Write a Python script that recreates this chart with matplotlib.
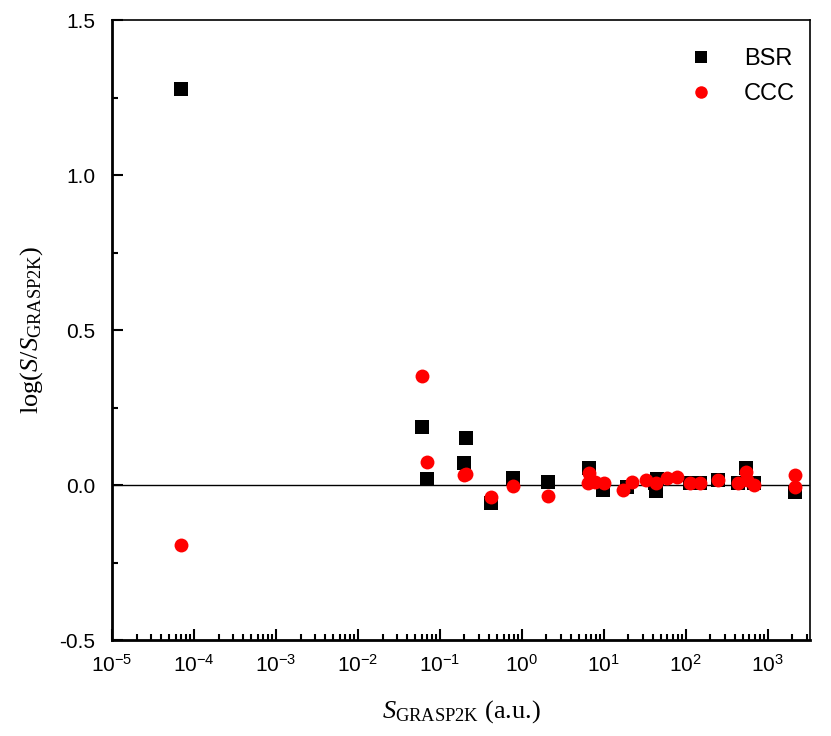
import matplotlib
matplotlib.use("Agg")
import matplotlib.pyplot as plt
import numpy as np
from matplotlib.ticker import FixedLocator, LogLocator, MultipleLocator, FuncFormatter, NullFormatter

plt.rcParams['font.family'] = ['Liberation Sans', 'DejaVu Sans']
plt.rcParams['mathtext.fontset'] = 'custom'
plt.rcParams['mathtext.rm'] = 'Liberation Serif'
plt.rcParams['mathtext.it'] = 'Liberation Serif:italic'
plt.rcParams['mathtext.sf'] = 'Liberation Sans'
plt.rcParams['axes.unicode_minus'] = False

# BSR line strengths vs GRASP2K
bsr_s = [6.9e-5, 0.06, 0.069, 0.21, 0.195, 0.42, 0.78, 2.1, 6.6, 9.8, 19, 43, 42, 45,
         112, 148, 250, 430, 550, 690, 2140]
bsr_log = [1.277, 0.187, 0.019, 0.152, 0.071, -0.058, 0.023, 0.01, 0.055, -0.016, -0.006,
           -0.019, 0.006, 0.02, 0.006, 0.006, 0.016, 0.006, 0.055, 0.006, -0.023]

# CCC line strengths vs GRASP2K
ccc_s = [6.9e-5, 0.06, 0.069, 0.2, 0.21, 0.42, 0.78, 2.1, 6.6, 6.4, 7.8, 10.2, 17, 22,
         33, 44, 59, 78, 112, 148, 250, 430, 550, 560, 690, 2150, 2150]
ccc_log = [-0.194, 0.352, 0.074, 0.032, 0.035, -0.039, -0.003, -0.035, 0.039, 0.006, 0.01,
           0.006, -0.016, 0.01, 0.016, 0.006, 0.023, 0.026, 0.006, 0.006, 0.016, 0.006,
           0.042, 0.016, 0.0, 0.032, -0.006]

fig = plt.figure(figsize=(8.31, 7.36), dpi=100)
ax = fig.add_axes([0.1348, 0.1304, 0.84, 0.8424])

ax.axhline(0, color='black', lw=1.0, zorder=1)
ax.plot(bsr_s, bsr_log, 's', color='black', ms=10, mew=0, label='BSR', zorder=2)
ax.plot(ccc_s, ccc_log, 'o', color='red', ms=10, mew=0, label='CCC', zorder=3)

ax.set_xscale('log')
ax.set_xlim(1e-5, 3300)
ax.set_ylim(-0.5, 1.5)

ax.xaxis.set_major_locator(FixedLocator([10.0 ** k for k in range(-5, 4)]))
ax.xaxis.set_minor_locator(LogLocator(base=10, subs=np.arange(2, 10), numticks=20))
ax.xaxis.set_major_formatter(FuncFormatter(lambda v, p: r'$\mathsf{10^{%d}}$' % round(np.log10(v))))
ax.xaxis.set_minor_formatter(NullFormatter())
ax.yaxis.set_major_locator(MultipleLocator(0.5))
ax.yaxis.set_minor_locator(MultipleLocator(0.25))
ax.yaxis.set_major_formatter(FuncFormatter(lambda v, p: '%.1f' % v))

ax.tick_params(which='both', direction='in', top=False, right=False, width=1.5, labelsize=15)
ax.tick_params(which='major', length=8)
ax.tick_params(which='minor', length=4)
ax.tick_params(axis='y', which='major', pad=12)
ax.tick_params(axis='x', which='major', pad=10)

for side in ['left', 'bottom']:
    ax.spines[side].set_linewidth(2.0)
for side in ['top', 'right']:
    ax.spines[side].set_linewidth(1.2)

ax.set_xlabel(r'$S_{\mathrm{GRASP2K}}$ (a.u.)', fontfamily='Liberation Serif', fontsize=19, labelpad=16)
ax.set_ylabel(r'$\mathrm{log}(S/S_{\mathrm{GRASP2K}})$', fontsize=19, labelpad=10)

ax.legend(loc='upper right', bbox_to_anchor=(1.005, 0.985), frameon=False, fontsize=17,
          handletextpad=0.8, borderaxespad=0.4, labelspacing=0.55, markerscale=0.9)

fig.savefig('out.png', dpi=100)
